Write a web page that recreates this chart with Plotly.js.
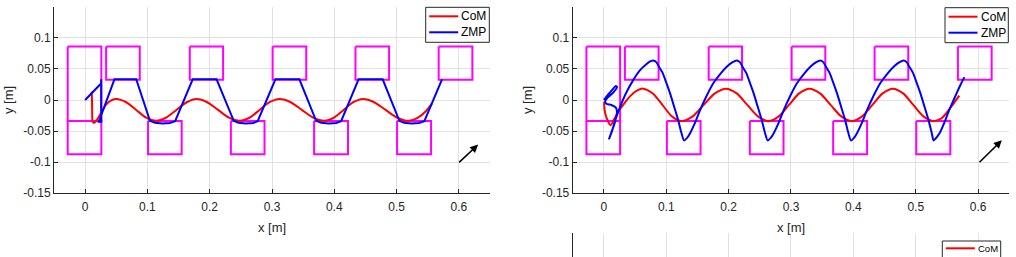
<!DOCTYPE html>
<html>
<head>
<meta charset="utf-8">
<script src="https://cdn.plot.ly/plotly-3.0.1.min.js"></script>
<style>
  html, body { margin: 0; padding: 0; overflow: hidden; background: #fff; }
  #chart { width: 1016px; height: 320px; }
</style>
</head>
<body>
<div id="chart"></div>
<script>
// Footstep rectangles (same footprint sequence in both runs)
const footXMin = [-0.028, -0.028, 0.0337, 0.101, 0.168, 0.234, 0.301, 0.3676, 0.434, 0.5008, 0.5676];
const footXMax = [0.026, 0.026, 0.0877, 0.155, 0.2215, 0.288, 0.355, 0.422, 0.488, 0.5554, 0.6217];
const footYMin = [-0.0338, -0.0872, 0.0327, -0.0872, 0.0327, -0.0872, 0.0327, -0.0872, 0.0327, -0.0872, 0.0327];
const footYMax = [0.0860, -0.0338, 0.0860, -0.0338, 0.0860, -0.0338, 0.0860, -0.0338, 0.0860, -0.0338, 0.0860];

// Run 1: CoM and ZMP trajectories
const comX1 = [0.0106,0.0112,0.0120,0.0140,0.0190,0.0260,0.0340,0.0420,0.0500,0.066,0.082,0.098,0.114,0.130,0.1465,0.163,0.179,0.196,0.2135,0.231,0.248,0.264,0.280,0.296,0.312,0.330,0.348,0.366,0.384,0.3995,0.415,0.4305,0.446,0.464,0.4825,0.501,0.519,0.535,0.547,0.557];
const comY1 = [0.0135,-0.010,-0.034,-0.0368,-0.032,-0.020,-0.0070,-0.0005,0.0016,-0.0036,-0.016,-0.0284,-0.0335,-0.0284,-0.016,-0.0036,0.0016,-0.0036,-0.016,-0.0284,-0.0335,-0.0284,-0.016,-0.0036,0.0016,-0.0036,-0.016,-0.0284,-0.0335,-0.0284,-0.016,-0.0036,0.0016,-0.0036,-0.016,-0.0284,-0.0335,-0.028,-0.018,-0.0054];
const zmpX1 = [0,0.0255,0.0258,0.0258,0.022,0.047,0.082,0.104,0.112,0.124,0.136,0.1445,0.1727,0.211,0.2386,0.246,0.258,0.270,0.277,0.3055,0.344,0.3708,0.379,0.391,0.403,0.411,0.439,0.4777,0.5045,0.512,0.524,0.536,0.5446,0.573];
const zmpY1 = [0,0.0265,0.0335,-0.035,-0.035,0.0333,0.0333,-0.0335,-0.0365,-0.038,-0.037,-0.034,0.0333,0.0333,-0.0335,-0.0365,-0.038,-0.037,-0.034,0.0333,0.0333,-0.0335,-0.0365,-0.038,-0.037,-0.034,0.0333,0.0333,-0.0335,-0.0365,-0.038,-0.037,-0.034,0.0333];

// Run 2: CoM and ZMP trajectories
const comX2 = [0.0005,0.001,0.004,0.0107,0.016,0.023,0.033,0.043,0.053,0.063,0.0784,0.0938,0.1091,0.1245,0.1423,0.1601,0.178,0.1958,0.2129,0.2299,0.247,0.264,0.2804,0.2968,0.3131,0.3295,0.3465,0.3635,0.3805,0.3975,0.414,0.4305,0.4469,0.4634,0.4797,0.496,0.5123,0.5286,0.542,0.556,0.5698];
const comY2 = [-0.003,-0.015,-0.028,-0.0405,-0.032,-0.019,-0.005,0.007,0.015,0.0183,0.0106,-0.0079,-0.0264,-0.034,-0.0264,-0.0079,0.0106,0.0183,0.0106,-0.0079,-0.0264,-0.034,-0.0264,-0.0079,0.0106,0.0183,0.0106,-0.0079,-0.0264,-0.034,-0.0264,-0.0079,0.0106,0.0183,0.0106,-0.0079,-0.0264,-0.034,-0.029,-0.012,0.007];
const zmpX2 = [0,0.006,0.013,0.019,0.021,0.015,0.006,0.002,0.004,0.012,0.019,0.021,0.017,0.012,0.0085,
  0.013,0.019,0.026,0.036,0.047,0.058,0.0685,0.075,0.079,
  0.084,0.088,0.094,0.100,0.106,0.113,0.119,0.124,0.1284,
  0.1334,0.1384,0.1464,0.1544,0.1644,0.1754,0.1874,0.1974,0.2064,0.213,
  0.218,0.222,0.228,0.234,0.240,0.247,0.253,0.258,0.2625,
  0.2675,0.2725,0.2805,0.2885,0.2985,0.3095,0.3215,0.3315,0.3405,0.3467,
  0.3517,0.3557,0.3617,0.3677,0.3737,0.3807,0.3867,0.3917,0.396,
  0.401,0.406,0.414,0.422,0.432,0.443,0.455,0.465,0.474,0.4804,
  0.4854,0.4894,0.4954,0.5014,0.5074,0.5144,0.5204,0.5254,0.5286,
  0.5336,0.539,0.546,0.553,0.559,0.566,0.572,0.578];
const zmpY2 = [0,0.008,0.016,0.0225,0.021,0.012,0.004,-0.002,-0.006,-0.008,-0.012,-0.02,-0.038,-0.052,-0.062,
  -0.050,-0.030,-0.011,0.012,0.032,0.048,0.058,0.0625,0.0637,
  0.061,0.054,0.044,0.028,0.011,-0.012,-0.032,-0.052,-0.065,
  -0.061,-0.053,-0.036,-0.016,0.006,0.027,0.043,0.054,0.061,0.0637,
  0.061,0.054,0.044,0.028,0.011,-0.012,-0.032,-0.052,-0.065,
  -0.061,-0.053,-0.036,-0.016,0.006,0.027,0.043,0.054,0.061,0.0637,
  0.061,0.054,0.044,0.028,0.011,-0.012,-0.032,-0.052,-0.065,
  -0.061,-0.053,-0.036,-0.016,0.006,0.027,0.043,0.054,0.061,0.0637,
  0.061,0.054,0.044,0.028,0.011,-0.012,-0.032,-0.052,-0.065,
  -0.060,-0.052,-0.036,-0.018,-0.004,0.012,0.025,0.0368];

// Walking-direction arrows [tailX, tailY, headX, headY]
const arrow1 = [0.598, -0.1026, 0.631, -0.0718];
const arrow2 = [0.5998, -0.1026, 0.638, -0.0648];

// Tick labels and legend entries
const xTicks = [0, 0.1, 0.2, 0.3, 0.4, 0.5, 0.6];
const xTickText = ['0', '0.1', '0.2', '0.3', '0.4', '0.5', '0.6'];
const yTicks = [-0.15, -0.1, -0.05, 0, 0.05, 0.1];
const yTickText = ['-0.15', '-0.1', '-0.05', '0', '0.05', '0.1'];
const seriesNames = ['CoM', 'ZMP'];
const seriesColors = ['#ff0000', '#0000ff'];

const FONT = 'Liberation Sans, Arial, Helvetica, sans-serif';
const INK = '#262626';
const GRID = '#e1e1e1';
const W = 1016, H = 320;

// Closed outlines for every footstep, separated by gaps
function footOutline() {
  const xs = [], ys = [];
  for (let i = 0; i < footXMin.length; i++) {
    xs.push(footXMin[i], footXMax[i], footXMax[i], footXMin[i], footXMin[i], null);
    ys.push(footYMax[i], footYMax[i], footYMin[i], footYMin[i], footYMax[i], null);
  }
  return { xs, ys };
}
const feet = footOutline();

function feetTrace(xa, ya) {
  return { x: feet.xs, y: feet.ys, xaxis: xa, yaxis: ya, mode: 'lines',
    line: { color: '#ff00ff', width: 2 }, showlegend: false, hoverinfo: 'skip' };
}
function curve(x, y, xa, ya, k, shape, smoothing) {
  const line = { color: seriesColors[k], width: 2, shape: shape };
  if (shape === 'spline') line.smoothing = smoothing;
  return { x: x, y: y, xaxis: xa, yaxis: ya, mode: 'lines', name: seriesNames[k],
    line: line, showlegend: false };
}

const traces = [
  feetTrace('x', 'y'),
  curve(comX1, comY1, 'x', 'y', 0, 'spline', 0.8),
  curve(zmpX1, zmpY1, 'x', 'y', 1, 'linear'),
  feetTrace('x2', 'y2'),
  curve(comX2, comY2, 'x2', 'y2', 0, 'spline', 0.8),
  curve(zmpX2, zmpY2, 'x2', 'y2', 1, 'spline', 0.6),
  // next panel below; only its top edge fits on the page
  curve(comX2, comY2, 'x3', 'y3', 0, 'spline', 0.8)
];

function xAxis(domain, anchor, withLabels) {
  return {
    domain: domain, anchor: anchor, range: [-0.05, 0.65],
    tickvals: xTicks, ticktext: xTickText, showticklabels: withLabels,
    ticks: withLabels ? 'inside' : '', ticklen: 4, tickcolor: INK, tickwidth: 1,
    ticklabelstandoff: 2,
    showline: true, linecolor: INK, linewidth: 1, mirror: false,
    showgrid: true, gridcolor: GRID, gridwidth: 1, zeroline: false,
    tickfont: { family: FONT, size: 12, color: INK },
    title: withLabels ? { text: 'x [m]', font: { family: FONT, size: 13, color: INK }, standoff: 10 } : { text: '' }
  };
}
function yAxis(domain, anchor, withLabels) {
  return {
    domain: domain, anchor: anchor, range: [-0.15, 0.15],
    tickvals: yTicks, ticktext: yTickText, showticklabels: withLabels,
    ticks: withLabels ? 'inside' : '', ticklen: 4, tickcolor: INK, tickwidth: 1,
    showline: true, linecolor: INK, linewidth: 1, mirror: false,
    showgrid: withLabels, gridcolor: GRID, gridwidth: 1, zeroline: false,
    tickfont: { family: FONT, size: 12, color: INK },
    title: withLabels ? { text: 'y [m]', font: { family: FONT, size: 13, color: INK }, standoff: 6 } : { text: '' }
  };
}

function arrowAnno(a, xr, yr) {
  return { x: a[2], y: a[3], ax: a[0], ay: a[1], xref: xr, yref: yr, axref: xr, ayref: yr,
    text: '', showarrow: true, arrowhead: 2, arrowsize: 1, arrowwidth: 1.6, arrowcolor: '#000' };
}

// Legend boxes drawn in page pixels: box [left, top, right, bottom], first row y, row step
const shapes = [];
const annotations = [arrowAnno(arrow1, 'x', 'y'), arrowAnno(arrow2, 'x2', 'y2')];
function legendBox(box, rowY, step, count, size) {
  shapes.push({ type: 'rect', xref: 'paper', yref: 'paper',
    x0: box[0] / W, x1: box[2] / W, y0: 1 - box[3] / H, y1: 1 - box[1] / H,
    line: { color: INK, width: 1 }, fillcolor: '#fff', layer: 'above' });
  for (let k = 0; k < count; k++) {
    const yy = 1 - (rowY + k * step) / H;
    shapes.push({ type: 'line', xref: 'paper', yref: 'paper',
      x0: (box[0] + 3.5) / W, x1: (box[0] + 32.5) / W, y0: yy, y1: yy,
      line: { color: seriesColors[k], width: 2 }, layer: 'above' });
    annotations.push({ xref: 'paper', yref: 'paper', x: (box[0] + 33.5) / W, y: yy,
      xanchor: 'left', yanchor: 'middle', showarrow: false, text: seriesNames[k],
      font: { family: FONT, size: size, color: '#000' } });
  }
}
legendBox([425.7, 7.3, 489.3, 42.3], 16.3, 16, 2, 12);
legendBox([945.0, 7.7, 1008.3, 42.7], 16.7, 16, 2, 12);
legendBox([942.3, 241.0, 1000.7, 290.0], 248.3, 16, 1, 9.5);

const layout = {
  width: W, height: H,
  margin: { l: 0, r: 0, t: 0, b: 0 },
  paper_bgcolor: '#fff', plot_bgcolor: '#fff',
  showlegend: false,
  xaxis: xAxis([0.05315, 0.48228], 'y', true),
  yaxis: yAxis([0.39625, 0.97875], 'x', true),
  xaxis2: xAxis([0.56368, 0.99341], 'y2', true),
  yaxis2: yAxis([0.39625, 0.97875], 'x2', true),
  xaxis3: xAxis([0.56368, 0.99341], 'y3', false),
  yaxis3: yAxis([0, 0.271875], 'x3', false),
  shapes: shapes,
  annotations: annotations
};

Plotly.newPlot('chart', traces, layout, { staticPlot: true, displayModeBar: false });
</script>
</body>
</html>
